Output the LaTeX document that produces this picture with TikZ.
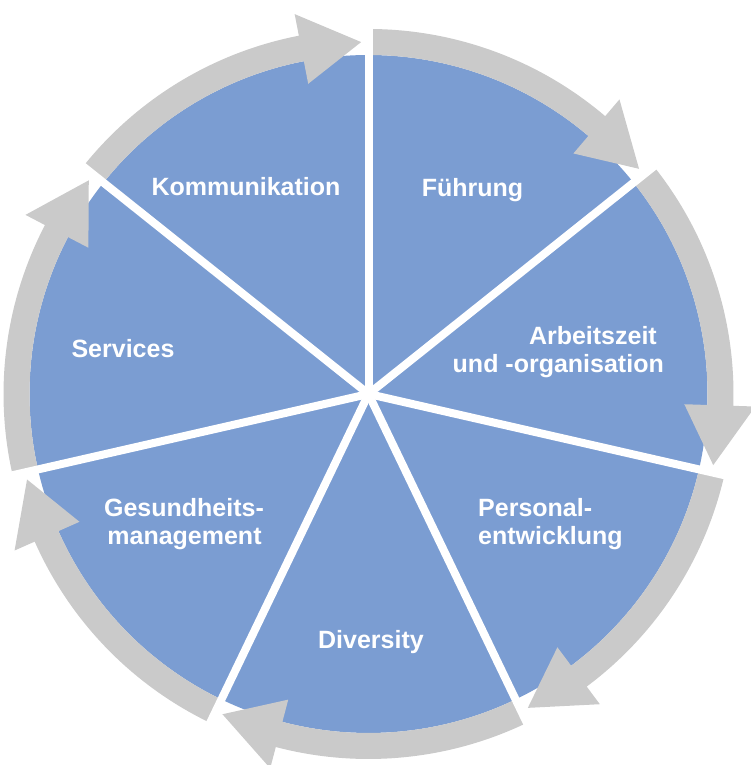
\documentclass[tikz,border=0pt]{standalone}
\usepackage{fontspec}
\setmainfont{Liberation Sans}
\definecolor{wedgeblue}{HTML}{7B9DD2}
\definecolor{ringgray}{HTML}{CACACA}
\begin{document}
\begin{tikzpicture}[x=1pt,y=1pt,
  lbl/.style={text=white,font=\bfseries\fontsize{25}{28}\selectfont,inner sep=0pt},
  wedge/.style={fill=wedgeblue},
  ringarrow/.style={fill=ringgray},
  sep/.style={draw=white,line width=8pt}]
\useasboundingbox (0,0) rectangle (751,765);
\coordinate (O) at (368.5,371);
\begin{scope}[shift={(O)}]
\foreach \i in {0,...,6}{
  \pgfmathsetmacro\s{90-\i*360/7}
  \pgfmathsetmacro\e{\s-360/7}
  \path[wedge] (0pt,0pt) -- (\s:339pt) arc[start angle=\s, end angle=\e, radius=339pt] -- cycle;
}
\foreach \i in {0,...,6}{
  \pgfmathsetmacro\s{90-\i*360/7}
  \pgfmathsetmacro\b{\s-360/7+11}
  \pgfmathsetmacro\t{\s-360/7+1.2}
  \path[ringarrow] (\s:365pt) arc[start angle=\s, end angle=\b, radius=365pt]
     -- (\b:387pt) -- (\t:352pt) -- (\b:316pt) -- (\b:339pt)
     arc[start angle=\b, end angle=\s, radius=339pt] -- cycle;
}
\foreach \i in {0,...,6}{
  \pgfmathsetmacro\s{90-\i*360/7}
  \path[sep] (0pt,0pt) -- (\s:368pt);
}
\end{scope}
\node[lbl, anchor=base] (kom) at (246,569) {Kommunikation};
\node[lbl, anchor=base] (fuehr) at (472.5,568) {Führung};
\node[lbl, anchor=base east] (arb1) at (657,420) {Arbeitszeit};
\node[lbl, anchor=base east] (arb2) at (664,392) {und -organisation};
\node[lbl, anchor=base west] (pers1) at (478,248) {Personal-};
\node[lbl, anchor=base west] (pers2) at (478,220) {entwicklung};
\node[lbl, anchor=base] (serv) at (123,407) {Services};
\node[lbl, anchor=base] (ges1) at (184,248) {Gesundheits-};
\node[lbl, anchor=base] (ges2) at (184.5,220) {management};
\node[lbl, anchor=base] (div) at (371,116) {Diversity};
\end{tikzpicture}
\end{document}
